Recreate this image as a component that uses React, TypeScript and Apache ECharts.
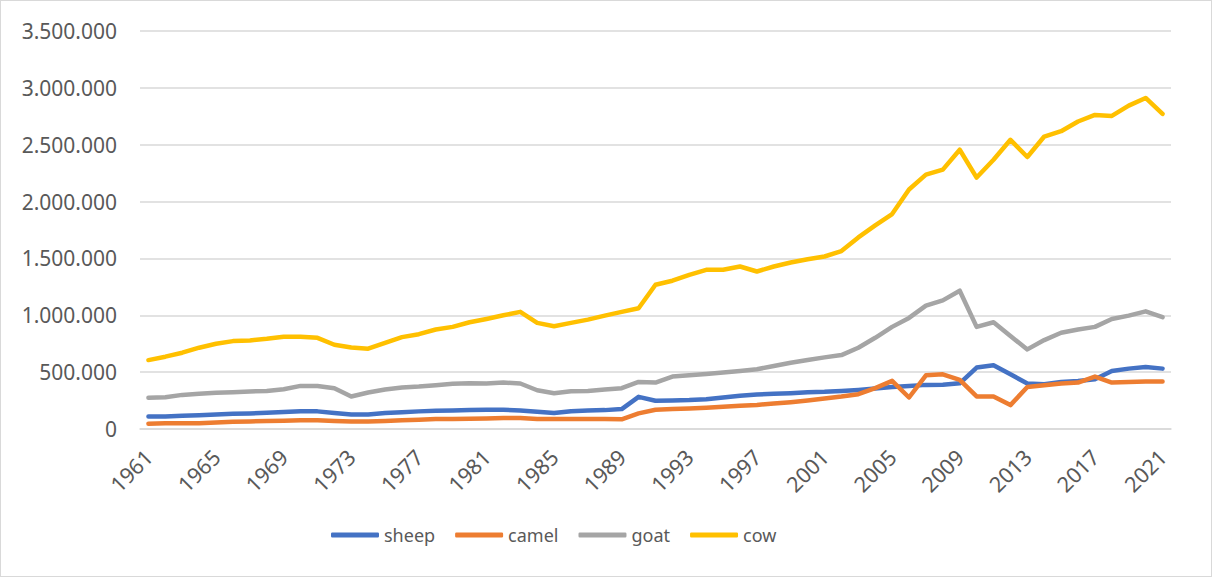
import React, { useEffect, useRef } from "react";
import * as echarts from "echarts";

const years: string[] = [];
for (let y = 1961; y <= 2021; y++) years.push(String(y));

const sheep = [
  111, 111, 117, 122, 128, 134, 137, 142, 150, 157, 155, 140, 128, 128, 140, 148, 155, 160, 163, 166,
  169, 169, 163, 151, 140, 157, 163, 166, 175, 283, 248, 251, 254, 262, 277, 292, 303, 309, 315, 324,
  327, 335, 344, 356, 370, 379, 388, 390, 402, 540, 560, 481, 400, 394, 414, 423, 438, 510, 531, 545, 531,
].map((v) => v * 1000);

const camel = [
  47, 50, 50, 50, 58, 64, 67, 70, 73, 76, 76, 70, 67, 67, 70, 76, 82, 87, 87, 90,
  93, 96, 96, 87, 87, 87, 87, 87, 85, 137, 169, 175, 181, 187, 195, 204, 212, 224, 236, 251,
  268, 285, 306, 359, 423, 277, 472, 481, 432, 286, 286, 210, 370, 385, 400, 408, 461, 408, 414, 417, 417,
].map((v) => v * 1000);

const goat = [
  274, 280, 300, 309, 318, 324, 330, 335, 350, 379, 379, 359, 286, 321, 347, 365, 373, 385, 397, 402,
  400, 408, 400, 341, 315, 332, 335, 347, 359, 414, 408, 461, 472, 484, 496, 510, 525, 554, 583, 607,
  630, 650, 714, 802, 898, 977, 1085, 1131, 1216, 898, 939, 817, 700, 782, 846, 875, 898, 968, 997, 1035, 983,
].map((v) => v * 1000);

const cow = [
  606, 636, 671, 715, 750, 773, 779, 793, 811, 811, 802, 741, 717, 706, 758, 808, 834, 875, 898, 939,
  968, 1000, 1030, 933, 904, 933, 962, 997, 1030, 1062, 1269, 1304, 1356, 1400, 1400, 1429, 1385, 1429, 1464, 1493,
  1517, 1565, 1685, 1790, 1890, 2106, 2237, 2281, 2456, 2211, 2368, 2543, 2392, 2572, 2619, 2704, 2762, 2753, 2844, 2911, 2771,
].map((v) => v * 1000);

const seriesNames = ["sheep", "camel", "goat", "cow"];
const seriesColors = ["#4472C4", "#ED7D31", "#A5A5A5", "#FFC000"];
const seriesData = [sheep, camel, goat, cow];

const fmt = (v: number) => String(Math.round(v)).replace(/\B(?=(\d{3})+(?!\d))/g, ".");

export default function App() {
  const ref = useRef<HTMLDivElement>(null);
  useEffect(() => {
    if (!ref.current) return;
    const chart = echarts.init(ref.current, undefined, { renderer: "svg" });
    chart.setOption({
      animation: false,
      backgroundColor: "#ffffff",
      textStyle: { fontFamily: "Noto Sans" },
      grid: { left: 139, right: 40, top: 30, bottom: 147 },
      legend: {
        left: 325,
        top: 520,
        itemWidth: 48,
        itemHeight: 5,
        itemGap: 20,
        icon: "roundRect",
        textStyle: { color: "#595959", fontSize: 18, fontFamily: "Noto Sans" },
        data: seriesNames,
      },
      xAxis: {
        type: "category",
        data: years,
        boundaryGap: true,
        axisLine: { lineStyle: { color: "#D9D9D9", width: 1.5 } },
        axisTick: { show: false },
        axisLabel: {
          interval: 3,
          rotate: 45,
          color: "#595959",
          fontSize: 21.5,
          margin: 24,
          fontFamily: "Noto Sans",
        },
      },
      yAxis: {
        type: "value",
        min: 0,
        max: 3500000,
        interval: 500000,
        axisLine: { show: false },
        axisTick: { show: false },
        splitLine: { lineStyle: { color: "#D9D9D9", width: 1.5 } },
        axisLabel: {
          color: "#595959",
          fontSize: 21,
          margin: 23,
          fontFamily: "Noto Sans",
          formatter: (v: number) => fmt(v),
        },
      },
      series: seriesNames.map((name, i) => ({
        name,
        type: "line",
        data: seriesData[i],
        showSymbol: false,
        symbol: "none",
        lineStyle: { color: seriesColors[i], width: 4.5, cap: "round", join: "round" },
        itemStyle: { color: seriesColors[i] },
      })),
    });
    return () => chart.dispose();
  }, []);
  return (
    <div
      style={{
        position: "fixed",
        left: 0,
        top: 0,
        width: 1212,
        height: 577,
        boxSizing: "border-box",
        border: "1.5px solid #D9D9D9",
        background: "#fff",
      }}
    >
      <div ref={ref} style={{ width: "100%", height: "100%" }} />
    </div>
  );
}
